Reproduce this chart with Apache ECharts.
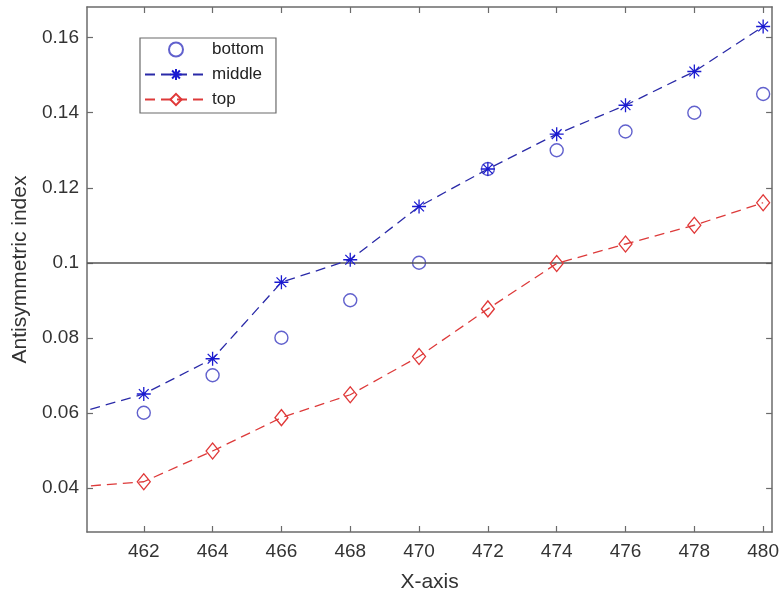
<!DOCTYPE html>
<html>
<head>
<meta charset="utf-8">
<script src="https://cdn.jsdelivr.net/npm/echarts@6/dist/echarts.min.js"></script>
<style>
  html, body { margin: 0; padding: 0; background: #fff; }
  #chart { width: 782px; height: 598px; }
</style>
</head>
<body>
<div id="chart"></div>
<script>
// Wavelength positions and the three index profiles
const xBottom = [462, 464, 466, 468, 470, 472, 474, 476, 478, 480];
const bottomValues = [0.060, 0.070, 0.080, 0.090, 0.100, 0.125, 0.130, 0.135, 0.140, 0.145];

const xLines = [460, 462, 464, 466, 468, 470, 472, 474, 476, 478, 480];
const middleValues = [0.0597, 0.065, 0.0744, 0.0948, 0.1008, 0.115, 0.125, 0.1343, 0.142, 0.151, 0.163];
const topValues = [0.0402, 0.0416, 0.0498, 0.0587, 0.0648, 0.075, 0.0877, 0.0998, 0.105, 0.110, 0.116];

const referenceLevel = 0.1;

const xTicks = [462, 464, 466, 468, 470, 472, 474, 476, 478, 480];
const yTicks = [0.04, 0.06, 0.08, 0.1, 0.12, 0.14, 0.16];

const xRange = [460.35, 480.26];
const yRange = [0.0282, 0.1682];

const pair = (xs, ys) => xs.map((x, i) => [x, ys[i]]);

// asterisk marker: plus + cross strokes
const asterisk = 'path://M0,5L10,5M5,0L5,10M1.5,1.5L8.5,8.5M8.5,1.5L1.5,8.5';

const font = 'Liberation Sans, Arial, sans-serif';
const frameColor = '#6b6b6b';
const textColor = '#333';

const boxAxisX = (position, showLabel) => ({
  type: 'value', position, min: xRange[0], max: xRange[1],
  axisLine: { show: true, onZero: false, lineStyle: { color: frameColor, width: 1.5 } },
  axisTick: { show: true, inside: true, length: 6, customValues: xTicks, lineStyle: { color: frameColor, width: 1.2 } },
  axisLabel: { show: showLabel, customValues: xTicks, margin: 10, color: textColor, fontSize: 19, fontFamily: font },
  splitLine: { show: false }
});
const boxAxisY = (position, showLabel) => ({
  type: 'value', position, min: yRange[0], max: yRange[1],
  axisLine: { show: true, onZero: false, lineStyle: { color: frameColor, width: 1.5 } },
  axisTick: { show: true, inside: true, length: 6, customValues: yTicks, lineStyle: { color: frameColor, width: 1.2 } },
  axisLabel: { show: showLabel, customValues: yTicks, margin: 8, color: textColor, fontSize: 19, fontFamily: font,
    formatter: v => String(+(+v).toFixed(2)) },
  splitLine: { show: false }
});

const xMain = Object.assign(boxAxisX('bottom', true), {
  name: 'X-axis', nameLocation: 'middle', nameGap: 40,
  nameTextStyle: { color: textColor, fontSize: 21, fontFamily: font }
});
const yMain = Object.assign(boxAxisY('left', true), {
  name: 'Antisymmetric index', nameLocation: 'middle', nameGap: 55,
  nameTextStyle: { color: textColor, fontSize: 21, fontFamily: font }
});

const chart = echarts.init(document.getElementById('chart'), null, { renderer: 'canvas' });
chart.setOption({
  animation: false,
  backgroundColor: '#fff',
  grid: { left: 87, right: 8, top: 7, bottom: 66, containLabel: false },
  xAxis: [xMain, boxAxisX('top', false)],
  yAxis: [yMain, boxAxisY('right', false)],
  legend: {
    orient: 'vertical', left: 140, top: 38,
    backgroundColor: '#fff', borderColor: frameColor, borderWidth: 1.2,
    padding: [3, 12, 5, 4], itemGap: 8, itemWidth: 62, itemHeight: 14,
    textStyle: { color: '#222', fontSize: 17, fontFamily: font },
    data: ['bottom', 'middle', 'top']
  },
  series: [
    {
      name: 'bottom', type: 'scatter', data: pair(xBottom, bottomValues),
      symbol: 'circle', symbolSize: 13,
      itemStyle: { color: 'rgba(255,255,255,0)', borderColor: '#3a3ac0', borderWidth: 1.4 },
      z: 4
    },
    {
      name: 'middle', type: 'line', data: pair(xLines, middleValues),
      symbol: asterisk, symbolSize: 14, showAllSymbol: true,
      itemStyle: { color: '#1a1ad0', borderColor: '#1a1ad0', borderWidth: 1.3 },
      lineStyle: { color: '#2a2aa8', width: 1.3, type: [10, 6] },
      clip: true, z: 5,
      markLine: {
        silent: true, symbol: 'none', label: { show: false },
        lineStyle: { color: '#555', width: 1.6, type: 'solid' },
        data: [{ yAxis: referenceLevel }]
      }
    },
    {
      name: 'top', type: 'line', data: pair(xLines, topValues),
      symbol: 'diamond', symbolSize: [13, 16], showAllSymbol: true,
      itemStyle: { color: 'rgba(255,255,255,0)', borderColor: '#e03838', borderWidth: 1.3 },
      lineStyle: { color: '#dd3a3a', width: 1.3, type: [10, 6] },
      clip: true, z: 5
    }
  ]
});
</script>
</body>
</html>
